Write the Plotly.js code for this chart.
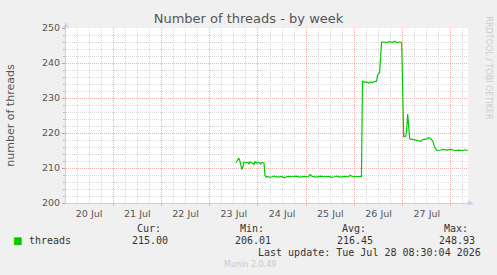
<!DOCTYPE html>
<html><head><meta charset="utf-8">
<script src="https://cdn.plot.ly/plotly-3.0.1.min.js"></script>
<style>html,body{margin:0;padding:0;background:#f0f0f0;}#chart{width:497px;height:275px;}</style>
</head><body><div id="chart"></div>
<script>
const times = [
"2026-07-23 13:00","2026-07-23 13:30","2026-07-23 14:00","2026-07-23 14:30","2026-07-23 15:00","2026-07-23 15:30","2026-07-23 16:00","2026-07-23 16:30","2026-07-23 17:00","2026-07-23 18:00",
"2026-07-23 19:00","2026-07-23 19:30","2026-07-23 20:00","2026-07-23 21:00","2026-07-23 22:00","2026-07-23 22:30","2026-07-23 23:30","2026-07-24 00:30","2026-07-24 01:30","2026-07-24 02:00",
"2026-07-24 03:00","2026-07-24 03:30","2026-07-24 04:00","2026-07-24 05:00","2026-07-24 06:00","2026-07-24 08:00","2026-07-24 10:00","2026-07-24 12:00","2026-07-24 13:00","2026-07-24 15:00",
"2026-07-24 17:00","2026-07-24 19:00","2026-07-24 21:00","2026-07-24 23:00","2026-07-25 01:00","2026-07-25 02:00","2026-07-25 03:00","2026-07-25 05:00","2026-07-25 07:00","2026-07-25 09:00",
"2026-07-25 11:00","2026-07-25 13:00","2026-07-25 15:00","2026-07-25 17:00","2026-07-25 19:00","2026-07-25 21:00","2026-07-25 22:00","2026-07-25 23:00","2026-07-26 01:00","2026-07-26 03:00",
"2026-07-26 03:30","2026-07-26 04:00","2026-07-26 05:00","2026-07-26 06:00","2026-07-26 07:00","2026-07-26 08:00","2026-07-26 09:00","2026-07-26 10:00","2026-07-26 11:00","2026-07-26 11:30",
"2026-07-26 12:30","2026-07-26 13:30","2026-07-26 14:30","2026-07-26 16:00","2026-07-26 17:00","2026-07-26 19:00","2026-07-26 20:00","2026-07-26 21:00","2026-07-26 23:00","2026-07-26 23:30",
"2026-07-27 00:30","2026-07-27 01:30","2026-07-27 02:00","2026-07-27 02:30","2026-07-27 03:00","2026-07-27 03:30","2026-07-27 05:00","2026-07-27 07:00","2026-07-27 09:00","2026-07-27 10:00",
"2026-07-27 12:00","2026-07-27 13:00","2026-07-27 14:00","2026-07-27 15:00","2026-07-27 16:00","2026-07-27 17:00","2026-07-27 18:00","2026-07-27 20:00","2026-07-27 22:00","2026-07-28 00:00",
"2026-07-28 02:00","2026-07-28 04:00","2026-07-28 06:00","2026-07-28 07:00","2026-07-28 08:00","2026-07-28 08:30"];
const threads = [
211.5,212.1,212.3,212.8,212.0,210.5,209.6,210.2,211.7,211.5,
211.6,211.2,211.7,211.5,211.0,211.8,211.4,211.6,211.2,211.6,
211.4,207.9,207.4,207.6,207.3,207.7,207.4,207.6,207.2,207.6,
207.5,207.7,207.4,207.6,207.5,208.1,207.6,207.4,207.7,207.5,
207.6,207.3,207.7,207.4,207.6,207.5,207.9,207.5,207.6,207.5,
207.6,234.8,234.5,234.6,234.3,234.6,234.4,234.7,234.8,236.5,
237.2,245.9,246.0,245.8,246.1,245.9,246.2,245.9,246.0,245.7,
219.0,219.1,221.0,225.4,220.0,218.3,218.2,218.0,217.6,218.1,
218.3,218.7,218.4,217.6,215.8,215.1,215.0,215.3,215.1,215.3,
215.0,215.1,215.0,215.2,215.1,215.0];

const titleText = "Number of threads - by week";
const yTitle = "number of threads";
const seriesName = "threads";
const statLabels = ["Cur:", "Min:", "Avg:", "Max:"];
const statValues = ["215.00", "206.01", "216.45", "248.93"];
const lastUpdate = "Last update: Tue Jul 28 08:30:04 2026";
const footer = "Munin 2.0.49";
const sideText = "RRDTOOL / TOBI OETIKER";
const xRange = ["2026-07-20 00:30", "2026-07-28 08:30"];
const yRange = [200, 250];

const green = "#00cc00";
const L = 66, R = 468, T = 28, B = 203, W = 497, H = 275;
const px = x => (x - L) / (R - L);
const py = y => (B - y) / (B - T);
const mono = {family: "DejaVu Sans Mono", size: 10, color: "#333"};

const statRight = [[163, 170], [266, 273], [368, 375], [470, 477]];
const ann = [];
statLabels.forEach((s, i) => {
  ann.push({text: s, x: px(statRight[i][0]), y: py(228), xref: "paper", yref: "paper", xanchor: "right", yanchor: "middle", showarrow: false, font: mono});
  ann.push({text: statValues[i], x: px(statRight[i][1]), y: py(240), xref: "paper", yref: "paper", xanchor: "right", yanchor: "middle", showarrow: false, font: mono});
});
ann.push({text: "■", x: px(17), y: py(240), xref: "paper", yref: "paper", xanchor: "center", yanchor: "middle", showarrow: false, font: {family: "DejaVu Sans", size: 10, color: green}});
ann.push({text: seriesName, x: px(27), y: py(240), xref: "paper", yref: "paper", xanchor: "left", yanchor: "middle", showarrow: false, font: mono});
ann.push({text: lastUpdate, x: px(483), y: py(252), xref: "paper", yref: "paper", xanchor: "right", yanchor: "middle", showarrow: false, font: mono});
ann.push({text: footer, x: px(222), y: py(264), xref: "paper", yref: "paper", xanchor: "left", yanchor: "middle", showarrow: false, font: {family: "DejaVu Sans", size: 8, color: "#c8c8c8"}});
ann.push({text: sideText, x: px(488), y: py(14), xref: "paper", yref: "paper", xanchor: "center", yanchor: "top", textangle: 90, showarrow: false, font: {family: "DejaVu Sans", size: 8, color: "#cccccc"}});
ann.push({text: "▲", x: px(66), y: py(25), xref: "paper", yref: "paper", xanchor: "center", yanchor: "middle", showarrow: false, font: {family: "DejaVu Sans", size: 7, color: "#ccccee"}});
ann.push({text: "▶", x: px(471), y: py(203), xref: "paper", yref: "paper", xanchor: "center", yanchor: "middle", showarrow: false, font: {family: "DejaVu Sans", size: 7, color: "#ccccee"}});

const data = [{x: times, y: threads, type: "scatter", mode: "lines", name: seriesName,
  line: {color: green, width: 1.2}, hoverinfo: "skip"}];

const layout = {
  width: W, height: H,
  margin: {l: L, r: W - R, t: T, b: H - B, pad: 0},
  paper_bgcolor: "#f0f0f0", plot_bgcolor: "#ffffff",
  showlegend: false,
  font: {family: "DejaVu Sans", color: "#555"},
  title: {text: titleText, x: 0.5, xref: "container", xanchor: "center", y: 1 - 18 / H, yref: "container", yanchor: "middle",
    font: {family: "DejaVu Sans", size: 13, color: "#555"}},
  xaxis: {type: "date", range: xRange, tick0: "2026-07-20", dtick: 86400000, ticklabelmode: "period",
    tickformat: "%d %b", showgrid: true, gridcolor: "#eab0b0", griddash: "1px,1px", gridwidth: 1,
    minor: {dtick: 6 * 3600000, showgrid: true, gridcolor: "#dcdcdc", griddash: "1px,1px", ticks: ""},
    ticks: "outside", ticklen: 2, tickcolor: "#eab0b0",
    showline: true, linecolor: "#ccccee", linewidth: 1, zeroline: false,
    tickfont: {family: "DejaVu Sans", size: 9.5, color: "#555"}, fixedrange: true},
  yaxis: {range: yRange, dtick: 10, tick0: 200, showgrid: true, gridcolor: "#eab0b0", griddash: "1px,1px", gridwidth: 1,
    minor: {dtick: 2, showgrid: true, gridcolor: "#dcdcdc", griddash: "1px,1px", ticks: "outside", ticklen: 2, tickcolor: "#bbb"},
    ticks: "outside", ticklen: 3, tickcolor: "#aaa",
    showline: true, linecolor: "#ccccee", linewidth: 1, zeroline: false,
    tickfont: {family: "DejaVu Sans", size: 9.5, color: "#555"},
    title: {text: yTitle, standoff: 25, font: {family: "DejaVu Sans", size: 11, color: "#555"}}, fixedrange: true},
  annotations: ann
};
Plotly.newPlot("chart", data, layout, {displayModeBar: false, staticPlot: true});
</script></body></html>
